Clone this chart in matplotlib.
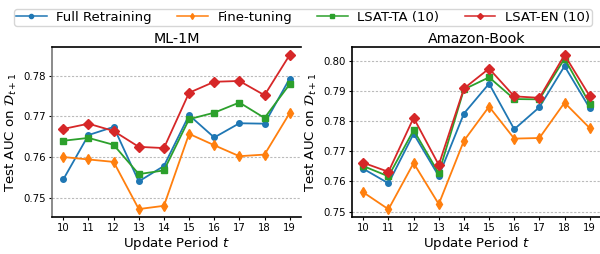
import matplotlib
matplotlib.use("Agg")
import matplotlib.pyplot as plt
from matplotlib.lines import Line2D

periods = [10, 11, 12, 13, 14, 15, 16, 17, 18, 19]
series_names = ["Full Retraining", "Fine-tuning", "LSAT-TA (10)", "LSAT-EN (10)"]

ml_full = [0.7545, 0.7654, 0.7674, 0.7540, 0.7578, 0.7703, 0.7648, 0.7683, 0.7682, 0.7793]
ml_ft   = [0.7600, 0.7594, 0.7588, 0.7472, 0.7480, 0.7657, 0.7629, 0.7602, 0.7606, 0.7708]
ml_ta   = [0.7640, 0.7647, 0.7630, 0.7558, 0.7567, 0.7693, 0.7709, 0.7734, 0.7696, 0.7779]
ml_en   = [0.7669, 0.7682, 0.7664, 0.7625, 0.7622, 0.7758, 0.7785, 0.7787, 0.7752, 0.7851]

ab_full = [0.7642, 0.7594, 0.7758, 0.7618, 0.7825, 0.7924, 0.7773, 0.7846, 0.7982, 0.7843]
ab_ft   = [0.7564, 0.7508, 0.7661, 0.7525, 0.7735, 0.7848, 0.7742, 0.7744, 0.7861, 0.7777]
ab_ta   = [0.7651, 0.7617, 0.7770, 0.7627, 0.7905, 0.7945, 0.7873, 0.7872, 0.8007, 0.7858]
ab_en   = [0.7662, 0.7632, 0.7811, 0.7655, 0.7908, 0.7974, 0.7882, 0.7877, 0.8019, 0.7883]

ml_ticks = [0.75, 0.76, 0.77, 0.78]
ab_ticks = [0.75, 0.76, 0.77, 0.78, 0.79, 0.80]

colors = ["#1f77b4", "#ff7f0e", "#2ca02c", "#d62728"]
markers = ["o", "d", "s", "D"]
msizes = [4, 5, 5, 5]

W, H = 600, 254
fig = plt.figure(figsize=(W / 100, H / 100), dpi=100)

def px_axes(x0, x1, y0, y1):
    return fig.add_axes([x0 / W, 1 - y1 / H, (x1 - x0) / W, (y1 - y0) / H])

ax1 = px_axes(52, 301, 47.3, 217)
ax2 = px_axes(352, 601, 47.3, 217)

panels = [
    (ax1, "ML-1M", [ml_full, ml_ft, ml_ta, ml_en], ml_ticks, (0.74525, 0.78698)),
    (ax2, "Amazon-Book", [ab_full, ab_ft, ab_ta, ab_en], ab_ticks, (0.74824, 0.80444)),
]

for ax, title, data, ticks, ylim in panels:
    for vals, c, m, ms, name in zip(data, colors, markers, msizes, series_names):
        ax.plot(periods, vals, color=c, marker=m, markersize=ms, linewidth=1.3, label=name)
    ax.set_xlim(9.55, 19.45)
    ax.set_ylim(*ylim)
    ax.set_xticks(periods)
    ax.set_yticks(ticks)
    ax.set_yticklabels([f"{t:.2f}" for t in ticks])
    ax.yaxis.grid(True, linestyle=(0, (2, 1.5)), color="#bbbbbb", linewidth=0.8)
    ax.set_axisbelow(True)
    ax.tick_params(labelsize=7.3, length=2.5, pad=2)
    ax.set_title(title, fontsize=10.3, pad=3)
    ax.set_xlabel("Update Period $t$", fontsize=9.6, labelpad=1)
    ax.set_ylabel("Test AUC on $\\mathcal{D}_{t+1}$", fontsize=9.6, labelpad=3)
    for s in ax.spines.values():
        s.set_linewidth(1.2)
    ax.spines["right"].set_visible(False)

ax1.spines["left"].set_color("#777777")

proxies = [Line2D([], [], color=c, marker=m, markersize=3, linewidth=1.1)
           for c, m in zip(colors, markers)]
fig.legend(proxies, series_names, loc="upper center", ncol=4, fontsize=9.5,
           bbox_to_anchor=(0.505, 0.99), frameon=True, borderpad=0.15,
           handlelength=2.3, columnspacing=1.9, handletextpad=0.75,
           edgecolor="#cccccc")

fig.savefig("out.png", dpi=100)
